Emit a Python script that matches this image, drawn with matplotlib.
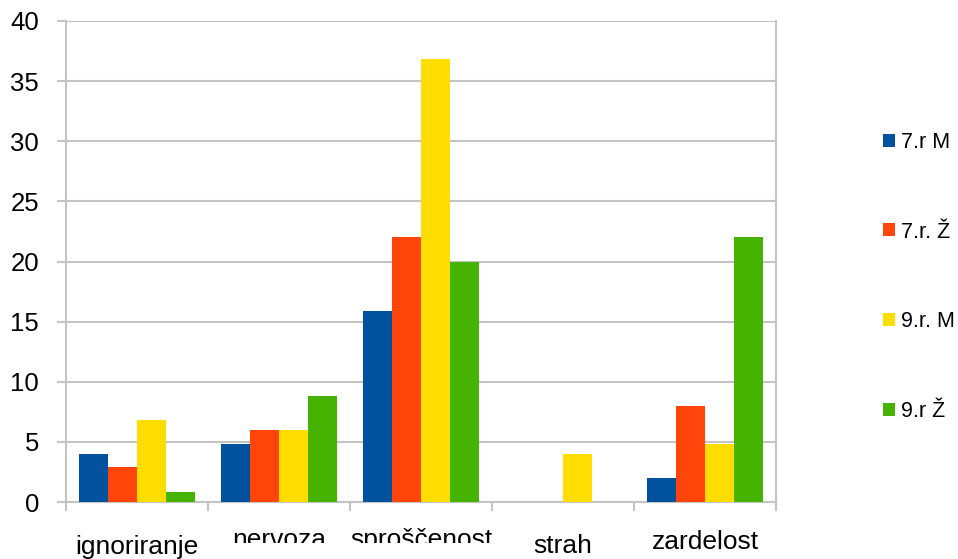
import matplotlib
matplotlib.use("Agg")
import matplotlib.pyplot as plt
import matplotlib.transforms as mtransforms
from matplotlib.patches import Rectangle
import numpy as np

plt.rcParams["font.family"] = ["Liberation Sans", "DejaVu Sans"]

categories = ["ignoriranje", "nervoza", "sproščenost", "strah", "zardelost"]
series_names = ["7.r M", "7.r. Ž", "9.r. M", "9.r Ž"]
r7_m = [4, 4.8, 15.9, 0, 2]
r7_z = [2.9, 6, 22, 0, 8]
r9_m = [6.8, 6, 36.8, 4, 4.8]
r9_z = [0.8, 8.8, 20, 0, 22]
colors = ["#00519e", "#ff4509", "#ffdd00", "#46b300"]

# label baselines in pixels from the top (the original has staggered, partly cut labels)
label_base_px = [554, 547, 547, 553, 549]
label_clip_px = [None, 543, 543, None, None]

W, H = 958, 559
grid_col = "#c4c4c4"

fig = plt.figure(figsize=(W / 100, H / 100), dpi=100)
ax = fig.add_axes([66 / W, 1 - 502 / H, (776 - 66) / W, (502 - 21) / H])

values = [r7_m, r7_z, r9_m, r9_z]
n = len(values)
bar_w = 0.2025
x = np.arange(len(categories)) + 0.5
for i, (vals, name, col) in enumerate(zip(values, series_names, colors)):
    ax.bar(x + (i - (n - 1) / 2) * bar_w, vals, width=bar_w, color=col,
           label=name, zorder=3)

ax.set_xlim(0, len(categories))
ax.set_ylim(0, 40)
ax.set_yticks(range(0, 41, 5))
ax.set_xticks(range(0, len(categories) + 1))
ax.set_xticklabels([])
ax.grid(True, axis="y", color=grid_col, linewidth=1.5, zorder=0)
ax.set_axisbelow(True)
for side in ["left", "right", "bottom"]:
    ax.spines[side].set_color(grid_col)
    ax.spines[side].set_linewidth(1.5)
ax.spines["top"].set_visible(False)
ax.tick_params(axis="both", colors=grid_col, width=1.5, length=6.5)
ax.tick_params(axis="y", labelcolor="black", labelsize=18.5, pad=13)

trans = mtransforms.blended_transform_factory(ax.transData, fig.transFigure)
for xi, cat, base, clip in zip(x, categories, label_base_px, label_clip_px):
    t = ax.text(xi, 1 - base / H, cat, transform=trans, ha="center",
                va="baseline", fontsize=19, color="black", clip_on=False)
    if clip is not None:
        rect = Rectangle((0, 1 - clip / H), 1, clip / H, transform=fig.transFigure)
        t.set_clip_path(rect)
        t.set_clip_on(True)

fig.legend(loc="center left", bbox_to_anchor=(883 / W, 1 - 277 / H),
           frameon=False, fontsize=15.5, handlelength=0.55, handleheight=0.55,
           handletextpad=0.3, labelspacing=3.2, borderpad=0, borderaxespad=0)

fig.savefig("out.png", dpi=100)
